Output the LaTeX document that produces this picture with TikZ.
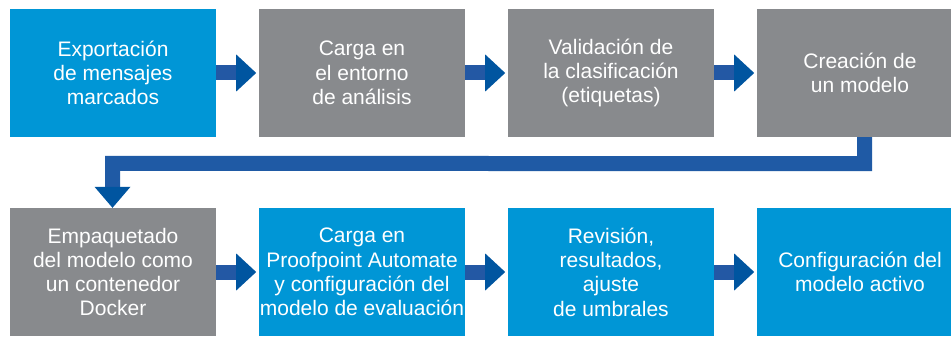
\documentclass[tikz,border=0pt]{standalone}
\usepackage{fontspec}
\setmainfont{Liberation Sans}
\usetikzlibrary{calc}
\definecolor{boxblue}{HTML}{0096D6}
\definecolor{boxgray}{HTML}{888A8D}
\definecolor{shaftc}{HTML}{2358A4}
\definecolor{headc}{HTML}{0055A0}
\definecolor{connc}{HTML}{1F5AA5}
\tikzset{
  stepbox/.style={rectangle, minimum width=206pt, minimum height=128pt, inner sep=0pt,
    text=white, align=center, font=\fontsize{21pt}{24.3pt}\selectfont},
  bluebox/.style={stepbox, fill=boxblue},
  graybox/.style={stepbox, fill=boxgray},
}
\begin{document}
\begin{tikzpicture}[x=1pt,y=1pt]
\useasboundingbox (0,0) rectangle (951,338);
\clip (0,0) rectangle (951,338);
\fill[white] (0,0) rectangle (951,338);
% row 1
\node[bluebox] (b1) at (113,265) {Exportación\\de mensajes\\marcados};
\node[graybox] (b2) at (362,265) {Carga en\\el entorno\\de análisis};
\node[graybox] (b3) at (611,265) {Validación de\\la clasificación\\(etiquetas)};
\node[graybox] (b4) at (860,265) {Creación de\\un modelo};
% row 2
\node[graybox] (b5) at (113,66) {Empaquetado\\del modelo como\\un contenedor\\Docker};
\node[bluebox] (b6) at (362,66) {Carga en\\Proofpoint Automate\\y configuración del\\modelo de evaluación};
\node[bluebox] (b7) at (611,66) {Revisión,\\resultados,\\ajuste\\de umbrales};
\node[bluebox] (b8) at (860,66) {Configuración del\\modelo activo};
% horizontal arrows
\foreach \a/\b in {b1/b2,b2/b3,b3/b4,b5/b6,b6/b7,b7/b8} {
  \fill[shaftc] ($(\a.east)+(0,-7.5)$) rectangle ($(\a.east)+(20.5,7.5)$);
  \fill[headc] ($(\a.east)+(20,18.5)$) -- ($(\a.east)+(40,0)$) -- ($(\a.east)+(20,-18.5)$) -- cycle;
}
% connector from b4 to b5
\coordinate (c1) at ($(b4.south)+(4.5,0)$);
\coordinate (c2) at ($(b4.south)+(4.5,-26.5)$);
\coordinate (c3) at ($(b5.north)+(-0.5,44.5)$);
\coordinate (c4) at ($(b5.north)+(-0.5,20.5)$);
\coordinate (tip) at ($(b5.north)+(-0.5,0)$);
\draw[connc, line width=15pt, line join=miter] (c1) -- (c2) -- (c3) -- (c4);
\fill[headc] ($(c4)+(-18,0.5)$) -- (tip) -- ($(c4)+(18,0.5)$) -- cycle;
\end{tikzpicture}
\end{document}
